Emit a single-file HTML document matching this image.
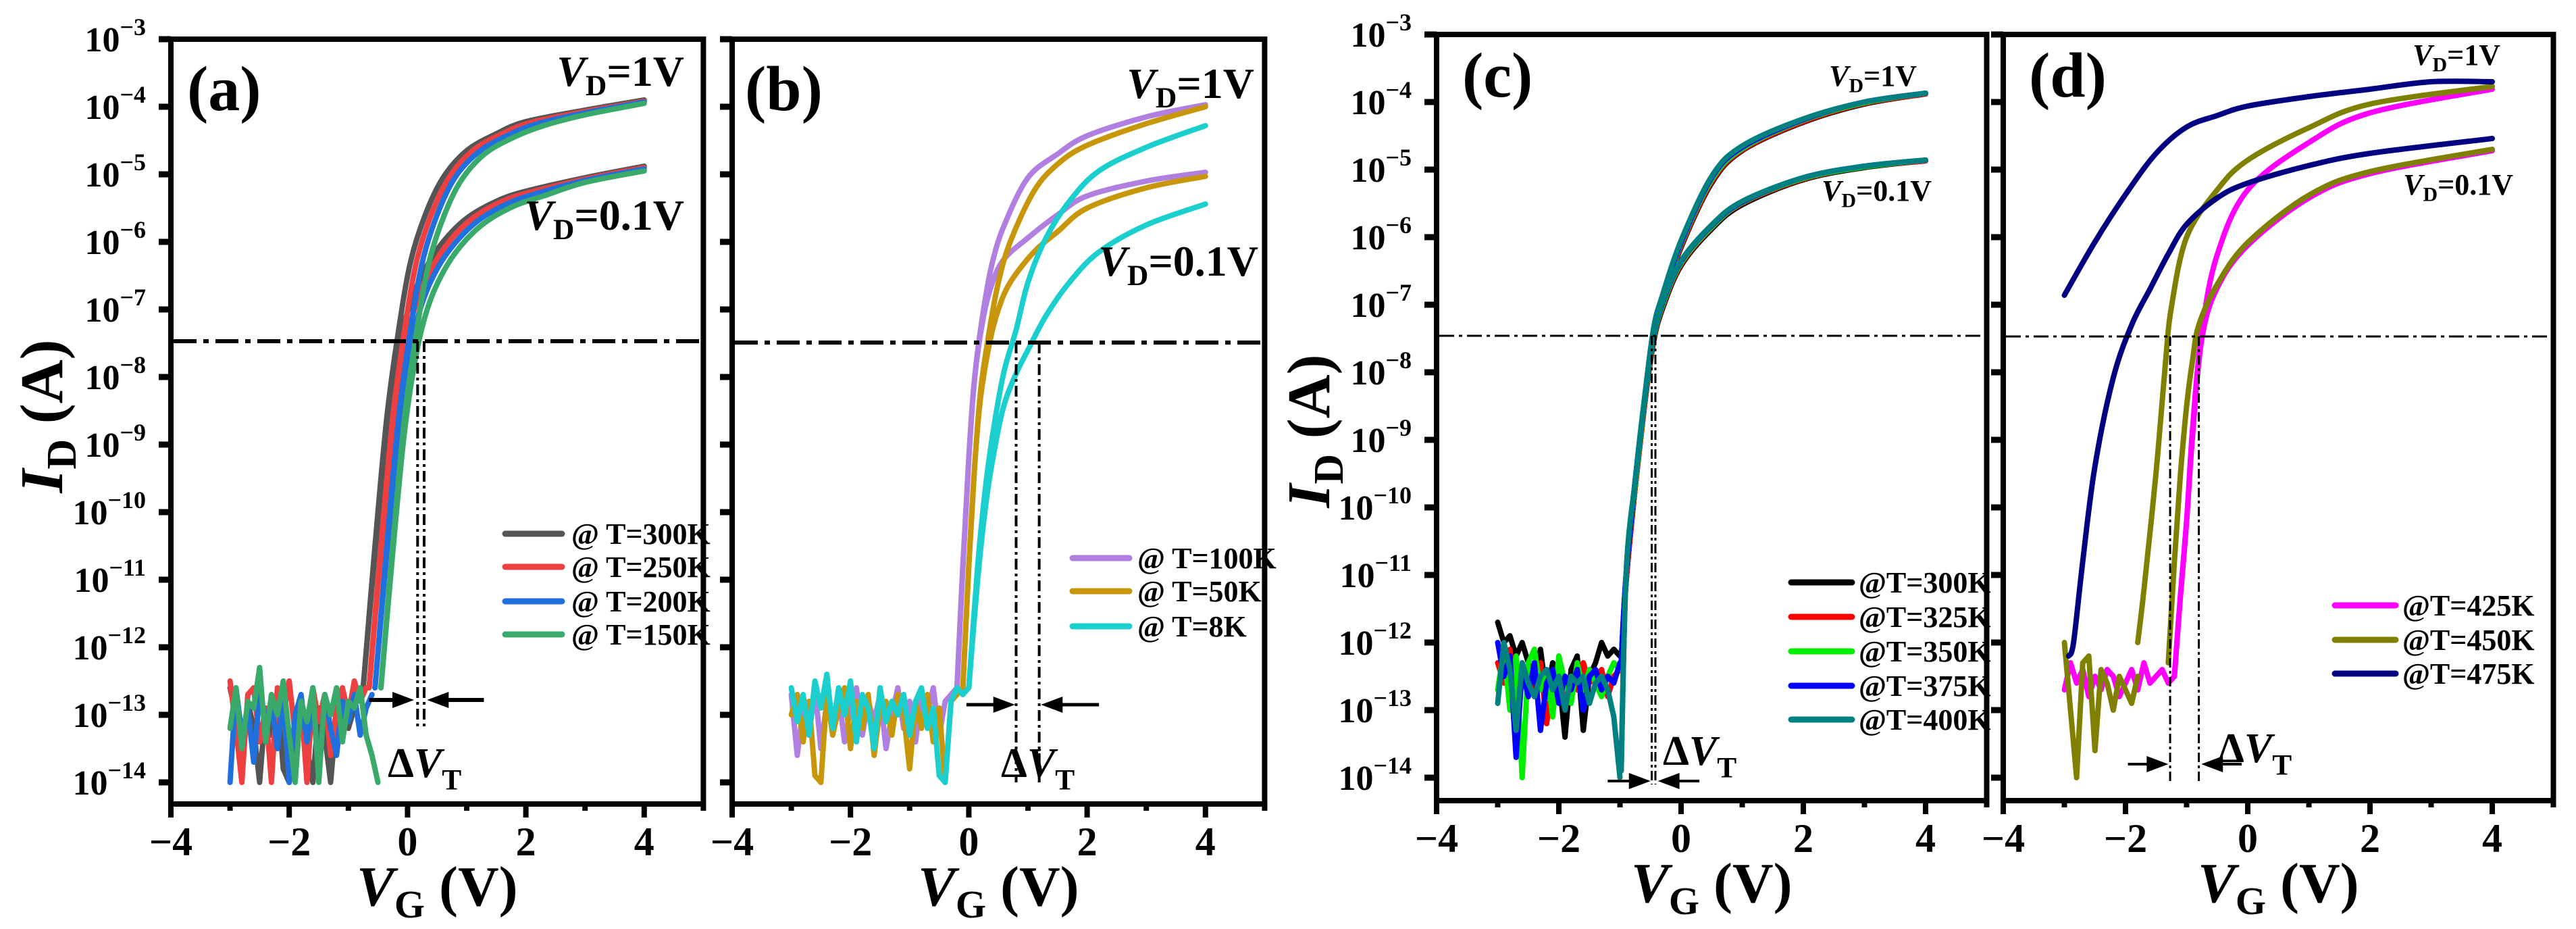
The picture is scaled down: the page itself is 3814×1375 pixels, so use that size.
<!DOCTYPE html>
<html><head><meta charset="utf-8"><style>
html,body{margin:0;padding:0;background:#fff;}
svg{display:block;}
svg text{font-family:"Liberation Serif","DejaVu Serif",serif;font-weight:bold;}
</style></head><body>
<svg id="fig" xmlns="http://www.w3.org/2000/svg" width="3814" height="1375" viewBox="0 0 3814 1375" font-family="Liberation Serif, serif" font-weight="bold"></svg>
<script>
// ---------- data ----------
const xTicks = [-4,-2,0,2,4];
const yDecades = [-3,-4,-5,-6,-7,-8,-9,-10,-11,-12,-13,-14];
const thresholdLog = [-7.47,-7.49,-7.46,-7.47];

// panel (a)
const aNames = ["@ T=300K","@ T=250K","@ T=200K","@ T=150K"];
const aColors = ["#555555","#ee4040","#1f6fdd","#3aaa6a"];
const aNoiseStart = -3;
const aNoise300 = [-12.6,-13.0,-13.6,-12.8,-13.2,-14.0,-12.9,-13.3,-12.7,-13.8,-14.0,-13.1,-12.8,-13.5,-14.0,-12.9,-13.3,-14.0,-13.0,-12.7,-13.2,-12.9,-12.6];
const aNoise250 = [-12.5,-13.2,-14.0,-12.7,-12.6,-13.4,-12.9,-14.0,-12.6,-13.0,-12.5,-13.3,-12.8,-14.0,-12.6,-13.1,-12.7,-13.6,-12.9,-12.6,-13.0,-12.5,-12.8,-12.6];
const aNoise200 = [-14.0,-12.6,-13.3,-12.9,-13.7,-12.7,-13.1,-12.8,-13.5,-12.7,-14.0,-13.0,-12.7,-13.4,-12.8,-13.9,-12.7,-13.2,-13.6,-12.8,-13.1,-12.7,-13.3,-12.9,-12.7];
const aNoise150 = [-13.2,-12.6,-13.5,-12.8,-12.9,-12.3,-13.4,-12.7,-13.0,-12.5,-13.3,-14.0,-12.8,-13.1,-12.6,-14.0,-12.7,-13.0,-12.6,-13.4,-12.8,-12.9,-12.6,-13.3,-13.6,-14.0];
const aVg300 = [-0.75,-0.55,-0.35,-0.15,0.05,0.3,0.6,1,1.5,2,3,4];
const aVg250 = [-0.65,-0.45,-0.25,-0.05,0.15,0.4,0.7,1.1,1.6,2.1,3,4];
const aVg200 = [-0.55,-0.35,-0.15,0.05,0.25,0.5,0.8,1.2,1.7,2.2,3,4];
const aVg150 = [-0.45,-0.25,-0.05,0.15,0.35,0.6,0.9,1.3,1.8,2.3,3,4];
const aHi300 = [-12.6,-10.5,-8.6,-7.3,-6.3,-5.6,-5.05,-4.65,-4.4,-4.22,-4.05,-3.9];
const aHi250 = [-12.6,-10.5,-8.6,-7.3,-6.3,-5.6,-5.05,-4.65,-4.4,-4.23,-4.07,-3.92];
const aHi200 = [-12.6,-10.5,-8.6,-7.3,-6.3,-5.6,-5.05,-4.67,-4.42,-4.25,-4.09,-3.93];
const aHi150 = [-12.6,-10.5,-8.6,-7.35,-6.35,-5.65,-5.1,-4.7,-4.45,-4.28,-4.12,-3.95];
const aLo300 = [-12.6,-10.6,-8.8,-7.6,-6.9,-6.4,-6.0,-5.65,-5.4,-5.25,-5.05,-4.88];
const aLo250 = [-12.6,-10.6,-8.8,-7.6,-6.9,-6.4,-6.0,-5.65,-5.4,-5.26,-5.07,-4.9];
const aLo200 = [-12.6,-10.6,-8.8,-7.6,-6.9,-6.4,-6.02,-5.68,-5.43,-5.28,-5.09,-4.92];
const aLo150 = [-12.6,-10.6,-8.8,-7.65,-6.95,-6.45,-6.06,-5.72,-5.47,-5.32,-5.12,-4.95];

// panel (b)
const bNames = ["@ T=100K","@ T=50K","@ T=8K"];
const bColors = ["#b07fe0","#c8960a","#1ccfcf"];
const bNoise100 = [-12.7,-13.6,-12.9,-13.3,-12.6,-13.5,-12.8,-13.2,-12.7,-13.4,-12.9,-12.6,-13.3,-12.8,-13.1,-12.7,-13.5,-13.0,-12.6,-13.2,-12.8,-13.4,-12.7,-13.0,-12.6,-13.3,-12.8,-12.7,-12.6];
const bNoise50 = [-13.0,-12.7,-13.4,-12.8,-13.9,-14.0,-12.7,-13.3,-12.9,-12.6,-13.5,-12.8,-13.2,-12.7,-13.6,-12.9,-12.8,-13.3,-12.7,-13.0,-13.8,-12.8,-13.2,-12.7,-13.4,-12.9,-14.0,-12.8,-12.7,-12.6];
const bNoise8 = [-12.6,-13.1,-12.7,-13.3,-12.5,-12.9,-12.4,-13.2,-12.6,-13.0,-12.5,-13.4,-12.7,-12.9,-13.5,-12.6,-13.1,-12.8,-13.0,-12.7,-13.3,-12.8,-12.6,-13.2,-12.9,-13.9,-14.0,-12.8,-12.6,-12.7,-12.6];
const bVg100 = [-0.2,-0.1,0,0.1,0.25,0.4,0.6,1,1.5,2,3,4];
const bVg50 = [-0.1,0,0.1,0.2,0.35,0.5,0.7,1.1,1.5,2,3,4];
const bVg8 = [0,0.15,0.3,0.45,0.6,0.8,1.0,1.3,1.7,2.2,3,4];
const bHi100 = [-12.6,-10.8,-9.2,-8.0,-7.0,-6.3,-5.75,-5.05,-4.7,-4.43,-4.15,-3.97];
const bLo100 = [-12.6,-10.8,-9.2,-8.0,-7.1,-6.6,-6.25,-5.94,-5.6,-5.32,-5.1,-4.97];
const bHi50 = [-12.6,-10.8,-9.3,-8.2,-7.3,-6.6,-6.0,-5.25,-4.85,-4.57,-4.25,-4.0];
const bLo50 = [-12.6,-10.8,-9.3,-8.3,-7.5,-7.0,-6.6,-6.15,-5.85,-5.5,-5.2,-5.03];
const bHi8 = [-12.6,-10.8,-9.5,-8.6,-7.9,-7.3,-6.6,-5.95,-5.4,-4.95,-4.6,-4.28];
const bLo8 = [-12.6,-11.0,-9.8,-9.0,-8.4,-7.95,-7.6,-7.1,-6.6,-6.15,-5.75,-5.44];

// panel (c)
const cNames = ["@T=300K","@T=325K","@T=350K","@T=375K","@T=400K"];
const cColors = ["#000000","#ff0000","#00ee00","#0000ff","#008080"];
const cNoise300 = [-11.7,-12.0,-11.9,-12.2,-12.0,-12.3,-12.6,-12.1,-12.8,-12.3,-12.5,-13.4,-12.4,-12.2,-13.3,-12.5,-12.3,-12.0,-12.2,-12.1,-12.2];
const cNoise325 = [-12.3,-12.6,-12.1,-12.9,-12.4,-12.5,-12.8,-12.3,-13.2,-12.6,-12.4,-12.9,-12.5,-12.7,-12.3,-12.6,-12.5,-12.4,-12.8,-12.5,-12.4];
const cNoise350 = [-12.7,-12.1,-13.0,-12.2,-14.0,-12.3,-12.1,-12.7,-12.4,-13.1,-12.2,-12.6,-12.9,-12.3,-12.7,-12.4,-12.6,-12.8,-12.5,-12.3,-12.4];
const cNoise375 = [-12.0,-12.5,-12.2,-13.7,-12.4,-12.8,-12.3,-13.3,-12.6,-12.4,-12.9,-12.5,-12.7,-12.4,-13.0,-12.5,-12.4,-12.7,-12.5,-12.6,-12.3];
const cNoise400 = [-12.9,-12.0,-12.4,-13.3,-12.3,-12.6,-12.8,-12.5,-12.4,-12.7,-12.5,-13.0,-12.5,-12.6,-12.5,-12.9,-12.6,-12.5,-12.7,-13.1,-14.0];
const cVg = [-0.98,-0.9,-0.75,-0.6,-0.45,-0.3,0,0.5,1,2,3,4];
const cHi300 = [-12.3,-11.1,-9.7,-8.5,-7.45,-6.95,-6.15,-5.2,-4.72,-4.3,-4.03,-3.88];
const cHi325 = [-12.4,-11.1,-9.7,-8.5,-7.43,-6.93,-6.13,-5.18,-4.71,-4.29,-4.02,-3.88];
const cHi350 = [-12.4,-11.0,-9.65,-8.45,-7.4,-6.9,-6.1,-5.15,-4.69,-4.27,-4.01,-3.87];
const cHi375 = [-12.3,-11.0,-9.6,-8.42,-7.38,-6.88,-6.08,-5.12,-4.67,-4.26,-4.0,-3.87];
const cHi400 = [-13.9,-11.0,-9.6,-8.4,-7.35,-6.85,-6.05,-5.1,-4.65,-4.25,-4.0,-3.87];
const cLo300 = [-12.3,-11.1,-9.7,-8.5,-7.55,-7.05,-6.42,-5.88,-5.52,-5.15,-4.97,-4.87];
const cLo325 = [-12.4,-11.1,-9.7,-8.5,-7.52,-7.02,-6.4,-5.86,-5.5,-5.14,-4.96,-4.87];
const cLo350 = [-12.4,-11.0,-9.65,-8.45,-7.5,-7.0,-6.38,-5.85,-5.49,-5.13,-4.96,-4.86];
const cLo375 = [-12.3,-11.0,-9.6,-8.42,-7.47,-6.97,-6.36,-5.83,-5.48,-5.12,-4.95,-4.86];
const cLo400 = [-13.9,-11.0,-9.6,-8.4,-7.45,-6.95,-6.35,-5.82,-5.47,-5.12,-4.95,-4.86];

// panel (d)
const dNames = ["@T=425K","@T=450K","@T=475K"];
const dColors = ["#ff00ff","#808000","#000080"];
const dNoise425 = [-12.7,-12.3,-12.6,-12.4,-12.8,-12.5,-12.7,-12.4,-12.5,-12.8,-12.6,-12.4,-12.7,-12.3,-12.6,-12.5,-12.4,-12.6,-12.5];
const dNoise450 = [-12.0,-13.0,-14.0,-12.3,-12.2,-13.6,-12.4,-12.6,-13.0,-12.5,-12.7,-12.9,-12.5];
const dVgHi425 = [-1.2,-1.1,-1.0,-0.9,-0.75,-0.5,0,1,2,4];
const dHi425 = [-12.5,-11.3,-10.2,-8.8,-7.39,-6.26,-5.3,-4.6,-4.16,-3.81];
const dLo425 = [-12.5,-11.3,-10.2,-8.9,-7.5,-6.75,-6.12,-5.42,-5.06,-4.72];
const dVgHi450 = [-1.8,-1.7,-1.5,-1.35,-1.25,-1,-0.5,0,1,2,4];
const dHi450 = [-12.0,-11.23,-9.48,-7.9,-7.04,-6.0,-5.3,-4.86,-4.38,-4.03,-3.77];
const dVgLo450 = [-1.3,-1.2,-1.1,-1.0,-0.9,-0.8,-0.5,0,1,2,4];
const dLo450 = [-12.3,-10.8,-9.5,-8.5,-7.8,-7.3,-6.7,-6.08,-5.38,-5.03,-4.7];
const dVgHi475 = [-3,-2.5,-2,-1.5,-1,-0.5,0,1,2,3,4];
const dHi475 = [-6.86,-6.07,-5.37,-4.76,-4.37,-4.2,-4.06,-3.92,-3.81,-3.7,-3.7];
const dVgLo475 = [-2.93,-2.85,-2.7,-2.5,-2.2,-1.9,-1.6,-1.3,-1,-0.5,0,1,2,4];
const dLo475 = [-12.2,-12.0,-10.8,-9.39,-8.08,-7.3,-6.77,-6.25,-5.81,-5.42,-5.2,-4.94,-4.76,-4.54];

// ---------- drawing ----------
const NS = "http://www.w3.org/2000/svg";
const FONT = '"Liberation Serif", "DejaVu Serif", serif';
const svg = document.getElementById('fig');
function el(tag, attrs, parent){const e=document.createElementNS(NS,tag);for(const k in attrs)e.setAttribute(k,attrs[k]);if(tag==='text'){e.setAttribute('font-family',FONT);e.setAttribute('font-weight','bold');}(parent||svg).appendChild(e);return e;}

const panels = {
  a:{x0:253,sx:87.6,y0:58,sy:100,bottom:1190},
  b:{x0:1084,sx:87.6,y0:58,sy:100,bottom:1190},
  c:{x0:2127,sx:90.5,y0:51,sy:100,bottom:1185},
  d:{x0:2966,sx:90.5,y0:51,sy:100,bottom:1185}
};
function X(p,v){return p.x0+(v+4)*p.sx;}
function Y(p,l){return p.y0+(-3-l)*p.sy;}

function smoothPath(pts){
  let d='M'+pts[0][0].toFixed(1)+','+pts[0][1].toFixed(1);
  for(let i=0;i<pts.length-1;i++){
    const p0=pts[i-1]||pts[i],p1=pts[i],p2=pts[i+1],p3=pts[i+2]||p2;
    const c1=[p1[0]+(p2[0]-p0[0])/6,p1[1]+(p2[1]-p0[1])/6];
    const c2=[p2[0]-(p3[0]-p1[0])/6,p2[1]-(p3[1]-p1[1])/6];
    d+=' C'+c1[0].toFixed(1)+','+c1[1].toFixed(1)+' '+c2[0].toFixed(1)+','+c2[1].toFixed(1)+' '+p2[0].toFixed(1)+','+p2[1].toFixed(1);
  }
  return d;
}
function linePath(pts){return 'M'+pts.map(q=>q[0].toFixed(1)+','+q[1].toFixed(1)).join(' L');}

function drawNoise(p,start,vals,color,w,name,g){
  const pts=vals.map((v,i)=>[X(p,start+i*0.1),Y(p,v)]);
  const e=el('path',{d:linePath(pts),fill:'none',stroke:color,'stroke-width':w,'stroke-linejoin':'round','stroke-linecap':'round'},g);
  
  
}
function drawCurve(p,vg,vals,color,w,name,g){
  const pts=vg.map((v,i)=>[X(p,v),Y(p,vals[i])]);
  const e=el('path',{d:smoothPath(pts),fill:'none',stroke:color,'stroke-width':w,'stroke-linejoin':'round','stroke-linecap':'round'},g);
  
  
}

function drawAxes(key,p,showYLabels){
  const g=el('g',{});
  
  
  const xr=X(p,5), yt=Y(p,-3);
  const frame=el('rect',{x:p.x0,y:yt,width:xr-p.x0,height:p.bottom-yt,fill:'none',stroke:'#000','stroke-width':8},g);
  
  
  for(const d of yDecades){
    const y=Y(p,d);
    const t=el('line',{x1:p.x0-18,x2:p.x0,y1:y,y2:y,stroke:'#000','stroke-width':9},g);
    
    
    if(showYLabels){
      const tx=el('text',{x:p.x0-37,y:y+18,'text-anchor':'end','font-size':52},g);
      
      
      const a=el('tspan',{},tx);a.textContent='10';
      const b=el('tspan',{dy:-24,'font-size':36},tx);b.textContent='\u2212'+(-d);
    }
  }
  for(let v=-4;v<=5;v++){
    const x=X(p,v), major=(v%2===0);
    const t=el('line',{x1:x,x2:x,y1:p.bottom,y2:p.bottom+(major?20:10),stroke:'#000','stroke-width':8},g);
    
    
  }
  for(const v of xTicks){
    const tx=el('text',{x:X(p,v),y:p.bottom+76,'text-anchor':'middle','font-size':60},g);
    
    
    tx.textContent=(v<0?'\u2212':'')+Math.abs(v);
  }
  const xt=el('text',{x:(p.x0+xr)/2,y:p.bottom+150,'text-anchor':'middle','font-size':84},g);
  
  
  const t1=el('tspan',{'font-style':'italic'},xt);t1.textContent='V';
  const t2=el('tspan',{dy:18,'font-size':58},xt);t2.textContent='G';
  const t3=el('tspan',{dy:-18},xt);t3.textContent=' (V)';
  return g;
}

function hline(p,l,w,dash,g,name){
  const e=el('line',{x1:p.x0+4,x2:X(p,5)-4,y1:Y(p,l),y2:Y(p,l),stroke:'#000','stroke-width':w,'stroke-dasharray':dash},g);
  
  
}
function vline(p,v,l1,l2,w,dash,g,name){
  const e=el('line',{x1:X(p,v),x2:X(p,v),y1:Y(p,l1),y2:Y(p,l2),stroke:'#000','stroke-width':w,'stroke-dasharray':dash},g);
  
  
}
function arrow(p,vFrom,vTo,l,w,g,name){
  const x1=X(p,vFrom),x2=X(p,vTo),y=Y(p,l),dir=Math.sign(x2-x1);
  const grp=el('g',{},g);
  
  
  el('line',{x1:x1,x2:x2-dir*26,y1:y,y2:y,stroke:'#000','stroke-width':w},grp);
  el('polygon',{points:`${x2},${y} ${x2-dir*32},${y-12} ${x2-dir*32},${y+12}`,fill:'#000'},grp);
}
function txt(x,y,size,parts,name,anchor){
  const t=el('text',{x:x,y:y,'font-size':size,'text-anchor':anchor||'start'});
  
  
  for(const pt of parts){const s=el('tspan',pt.a||{},t);s.textContent=pt.t;}
  return t;
}
function vdLabel(x,y,size,val,name){
  txt(x,y,size,[{t:'V',a:{'font-style':'italic'}},{t:'D',a:{dy:size*0.22,'font-size':size*0.68}},{t:'='+val,a:{dy:-size*0.22}}],name,'end');
}
function dvtLabel(x,y,size,name){
  txt(x,y,size,[{t:'\u0394'},{t:'V',a:{'font-style':'italic'}},{t:'T',a:{dy:size*0.3,'font-size':size*0.7}}],name);
}
function legend(items,colors,x1,x2,tx,ys,w,size,key){
  const g=el('g',{});
  
  
  items.forEach((n,i)=>{
    const e=el('g',{},g);
    
    
    el('line',{x1:x1,x2:x2,y1:ys[i],y2:ys[i],stroke:colors[i],'stroke-width':w,'stroke-linecap':'round'},e);
    const t=el('text',{x:tx,y:ys[i]+15,'font-size':size},e);t.textContent=n;
  });
}

// ---- Panel a ----
(function(){
  const p=panels.a; const g=drawAxes('a',p,true);
  const noise=[aNoise300,aNoise250,aNoise200,aNoise150];
  const vg=[aVg300,aVg250,aVg200,aVg150], hi=[aHi300,aHi250,aHi200,aHi150], lo=[aLo300,aLo250,aLo200,aLo150];
  for(let i=0;i<4;i++){
    drawNoise(p,aNoiseStart,noise[i],aColors[i],8,'noise-a-'+i,g);
    drawCurve(p,vg[i],lo[i],aColors[i],8,'curve-a-vd01-'+i,g);
    drawCurve(p,vg[i],hi[i],aColors[i],8,'curve-a-vd1-'+i,g);
  }
  hline(p,thresholdLog[0],6,'34 10 8 10',g,'threshold-line-a');
  vline(p,0.17,thresholdLog[0],-13.22,4,'16 6 4 6',g,'vt-line-a1');
  vline(p,0.28,thresholdLog[0],-13.22,4,'16 6 4 6',g,'vt-line-a2');
  arrow(p,-0.65,0.11,-12.78,6,g,'arrow-a-right');
  arrow(p,1.29,0.33,-12.78,6,g,'arrow-a-left');
  dvtLabel(574,1150,62,'delta-vt-a');
  txt(277,163,94,[{t:'(a)'}],'panel-label-a');
  vdLabel(1013,127,64,'1V','vd-label-a-1v');
  vdLabel(1013,340,64,'0.1V','vd-label-a-01v');
  legend(aNames,aColors,748,832,846,[790,839,890,939],9,44,'a');
  const yt=txt(0,0,90,[{t:'I',a:{'font-style':'italic'}},{t:'D',a:{dy:20,'font-size':62}},{t:' (A)',a:{dy:-20}}],'y-axis-title-a','middle');
  yt.setAttribute('transform','translate(92,616) rotate(-90)');
})();

// ---- Panel b ----
(function(){
  const p=panels.b; const g=drawAxes('b',p,false);
  const noise=[bNoise100,bNoise50,bNoise8];
  const vg=[bVg100,bVg50,bVg8], hi=[bHi100,bHi50,bHi8], lo=[bLo100,bLo50,bLo8];
  for(let i=0;i<3;i++){
    drawNoise(p,-3,noise[i],bColors[i],8,'noise-b-'+i,g);
    drawCurve(p,vg[i],lo[i],bColors[i],8,'curve-b-vd01-'+i,g);
    drawCurve(p,vg[i],hi[i],bColors[i],8,'curve-b-vd1-'+i,g);
  }
  hline(p,thresholdLog[1],6,'34 10 8 10',g,'threshold-line-b');
  vline(p,0.8,thresholdLog[1],-14.0,4,'16 6 4 6',g,'vt-line-b1');
  vline(p,1.19,thresholdLog[1],-14.0,4,'16 6 4 6',g,'vt-line-b2');
  arrow(p,-0.04,0.78,-12.85,5,g,'arrow-b-right');
  arrow(p,2.2,1.22,-12.85,5,g,'arrow-b-left');
  dvtLabel(1482,1150,62,'delta-vt-b');
  txt(1103,163,94,[{t:'(b)'}],'panel-label-b');
  vdLabel(1857,145,64,'1V','vd-label-b-1v');
  vdLabel(1863,408,64,'0.1V','vd-label-b-01v');
  legend(bNames,bColors,1588,1672,1684,[826,875,927],9,44,'b');
})();

// ---- Panel c ----
(function(){
  const p=panels.c; const g=drawAxes('c',p,true);
  const noise=[cNoise300,cNoise325,cNoise350,cNoise375,cNoise400];
  const hi=[cHi300,cHi325,cHi350,cHi375,cHi400], lo=[cLo300,cLo325,cLo350,cLo375,cLo400];
  for(let i=0;i<5;i++){
    drawNoise(p,-3,noise[i],cColors[i],8,'noise-c-'+i,g);
    drawCurve(p,cVg,lo[i],cColors[i],8,'curve-c-vd01-'+i,g);
    drawCurve(p,cVg,hi[i],cColors[i],8,'curve-c-vd1-'+i,g);
  }
  hline(p,thresholdLog[2],3,'22 7 5 7',g,'threshold-line-c');
  vline(p,-0.48,thresholdLog[2],-14.1,3,'14 5 4 5',g,'vt-line-c1');
  vline(p,-0.42,thresholdLog[2],-14.1,3,'14 5 4 5',g,'vt-line-c2');
  arrow(p,-1.2,-0.5,-14.05,4,g,'arrow-c-right');
  arrow(p,0.3,-0.38,-14.05,4,g,'arrow-c-left');
  dvtLabel(2462,1132,62,'delta-vt-c');
  txt(2165,143,94,[{t:'(c)'}],'panel-label-c');
  vdLabel(2838,127,44,'1V','vd-label-c-1v');
  vdLabel(2860,297,44,'0.1V','vd-label-c-01v');
  legend(cNames,cColors,2652,2742,2752,[862,913,964,1015,1065],9,44,'c');
  const yt=txt(0,0,90,[{t:'I',a:{'font-style':'italic'}},{t:'D',a:{dy:20,'font-size':62}},{t:' (A)',a:{dy:-20}}],'y-axis-title-c','middle');
  yt.setAttribute('transform','translate(1968,638) rotate(-90)');
})();

// ---- Panel d ----
(function(){
  const p=panels.d; const g=drawAxes('d',p,false);
  drawNoise(p,-3,dNoise425,dColors[0],8,'noise-d-425',g);
  drawNoise(p,-3,dNoise450,dColors[1],8,'noise-d-450',g);
  drawCurve(p,dVgHi425,dLo425,dColors[0],8,'curve-d-vd01-425',g);
  drawCurve(p,dVgHi425,dHi425,dColors[0],8,'curve-d-vd1-425',g);
  drawCurve(p,dVgLo450,dLo450,dColors[1],8,'curve-d-vd01-450',g);
  drawCurve(p,dVgHi450,dHi450,dColors[1],8,'curve-d-vd1-450',g);
  drawCurve(p,dVgLo475,dLo475,dColors[2],8,'curve-d-vd01-475',g);
  drawCurve(p,dVgHi475,dHi475,dColors[2],8,'curve-d-vd1-475',g);
  hline(p,thresholdLog[3],3,'22 7 5 7',g,'threshold-line-d');
  vline(p,-1.27,thresholdLog[3],-14.1,3,'14 5 4 5',g,'vt-line-d1');
  vline(p,-0.8,thresholdLog[3],-14.1,3,'14 5 4 5',g,'vt-line-d2');
  arrow(p,-1.96,-1.3,-13.8,4,g,'arrow-d-right');
  arrow(p,-0.1,-0.76,-13.8,4,g,'arrow-d-left');
  dvtLabel(3284,1128,62,'delta-vt-d');
  txt(3004,143,94,[{t:'(d)'}],'panel-label-d');
  vdLabel(3702,96,44,'1V','vd-label-d-1v');
  vdLabel(3721,288,44,'0.1V','vd-label-d-01v');
  legend(dNames,dColors,3457,3547,3557,[896,947,997],9,44,'d');
})();
</script>
</body></html>
